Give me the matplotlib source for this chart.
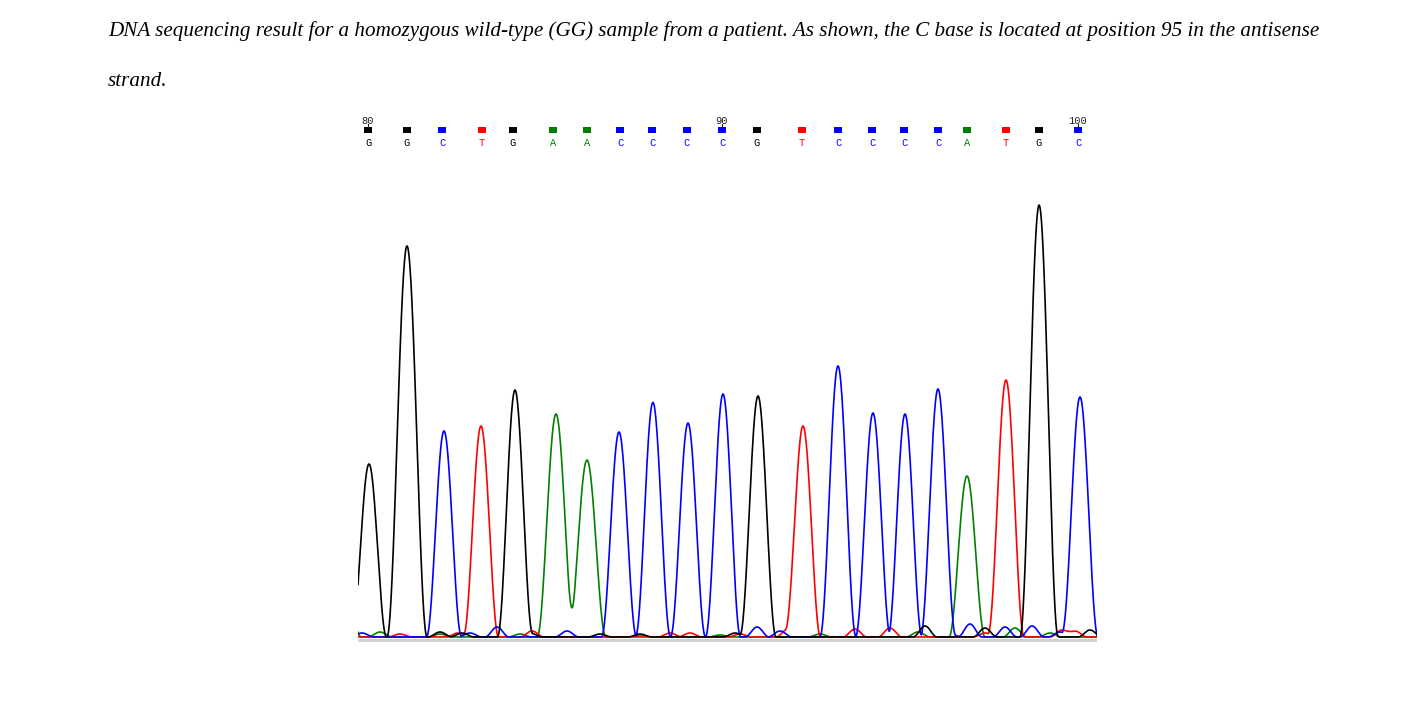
import numpy as np
import matplotlib
matplotlib.use("Agg")
import matplotlib.pyplot as plt

# base calls (scan position of each call)
bases = list("GGCTGAACCCCGTCCCCATGC")
call_pos = [368, 407, 442, 482, 513, 553, 587, 620, 652, 687, 722, 757,
            802, 838, 872, 904, 938, 967, 1006, 1039, 1078]
first_index = 80
numbered = [80, 90, 100]

# main peaks per channel: centre (scan pos), height (signal), half base width
g_pos = [369, 407, 515, 758, 1039]
g_hgt = [173, 391, 247, 241, 431]
g_wid = [17.5, 20, 17.5, 18, 19]
c_pos = [444, 619, 653, 688, 723, 838, 873, 905, 938, 1080]
c_hgt = [206, 205, 232, 214, 243, 271, 224, 223, 248, 240]
c_wid = [17.5, 17.5, 17.5, 17.5, 17.5, 18, 17.5, 17, 17.5, 18]
t_pos = [481, 803, 1006]
t_hgt = [211, 211, 257]
t_wid = [17.5, 17.5, 18]
a_pos = [342, 556, 587, 967]
a_hgt = [80, 223, 177, 161]
a_wid = [19, 18.8, 18.8, 18]

# small background bumps per channel: centre, height
g_noise_pos = [440, 462, 530, 600, 640, 735, 925, 985, 1048, 1090]
g_noise_hgt = [5, 4, 4, 3, 3, 4, 11, 9, 6, 7]
c_noise_pos = [362, 470, 497, 567, 650, 757, 780, 950, 970, 1005, 1032, 1060]
c_noise_hgt = [4, 4, 10, 6, 3, 10, 6, 3, 13, 10, 11, 5]
t_noise_pos = [400, 458, 532, 670, 690, 740, 788, 855, 890, 985, 1062, 1075]
t_noise_hgt = [3, 4, 6, 4, 4, 3, 8, 8, 9, 4, 7, 6]
a_noise_pos = [380, 440, 520, 640, 720, 820, 918, 1015, 1050]
a_noise_hgt = [5, 3, 3, 2, 2, 3, 5, 9, 4]

colors = {"G": "#000000", "C": "#0000ff", "T": "#ff0000", "A": "#008000"}
noise_wid = 12.0

x0, x1 = 358, 1097
scan = np.linspace(x0, x1, 3000)


def bump(p, h, w):
    d = np.clip((scan - p) / w, -1, 1)
    return h * np.cos(np.pi * d / 2) ** 2


def trace(pos, hgt, wid, npos, nhgt):
    y = np.zeros_like(scan)
    for p, h, w in zip(pos, hgt, wid):
        y += bump(p, h, w)
    for p, h in zip(npos, nhgt):
        y += bump(p, h, noise_wid)
    return y


W, H = 1423, 728
fig = plt.figure(figsize=(W / 100, H / 100), dpi=100)

txt = ("DNA sequencing result for a homozygous wild-type (GG) sample from a patient. "
       "As shown, the C base is located at position 95 in the antisense")
fig.text(108 / W, 1 - 31 / H, txt, fontsize=15.2, fontstyle="italic",
         family="Liberation Serif", va="center", ha="left")
fig.text(108 / W, 1 - 81 / H, "strand.", fontsize=15.2, fontstyle="italic",
         family="Liberation Serif", va="center", ha="left")

# trace axes: one unit = one pixel
top_px, bot_px = 190, 642
ax = fig.add_axes([x0 / W, 1 - bot_px / H, (x1 - x0) / W, (bot_px - top_px) / H])
ax.set_xlim(x0, x1)
ax.set_ylim(-5, bot_px - top_px - 5)
ax.axis("off")
ax.plot([x0, x1], [-2.5, -2.5], color="#d0d0d0", lw=2.2, solid_capstyle="butt")

channels = [("A", a_pos, a_hgt, a_wid, a_noise_pos, a_noise_hgt),
            ("T", t_pos, t_hgt, t_wid, t_noise_pos, t_noise_hgt),
            ("C", c_pos, c_hgt, c_wid, c_noise_pos, c_noise_hgt),
            ("G", g_pos, g_hgt, g_wid, g_noise_pos, g_noise_hgt)]
for b, p, h, w, npos, nh in channels:
    ax.plot(scan, trace(p, h, w, npos, nh), color=colors[b], lw=1.2)

# base call strip
ax2 = fig.add_axes([x0 / W, 1 - 150 / H, (x1 - x0) / W, 40 / H])
ax2.set_xlim(x0, x1)
ax2.set_ylim(150, 110)
ax2.axis("off")
for i, (b, p) in enumerate(zip(bases, call_pos)):
    ax2.bar(p, 6, bottom=127.5, width=8, color=colors[b], edgecolor="none")
    ax2.text(p, 142.5, b, color=colors[b], fontsize=7.5, family="Liberation Mono",
             ha="center", va="center")
    n = first_index + i
    if n in numbered:
        ax2.text(p, 121, str(n), color="#202020", fontsize=7.5,
                 family="Liberation Mono", ha="center", va="center")
        ax2.plot([p, p], [124.5, 127.5], color="#202020", lw=0.8)

fig.savefig("out.png", dpi=100)
